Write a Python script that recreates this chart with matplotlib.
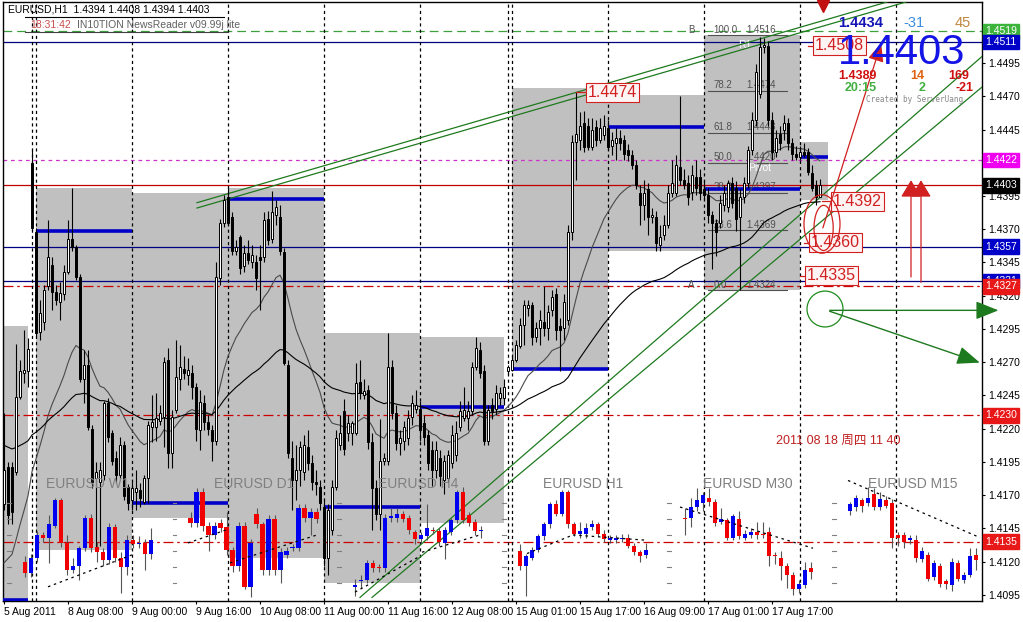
import matplotlib
matplotlib.use("Agg")
import matplotlib.pyplot as plt
import matplotlib.transforms as mtransforms
from matplotlib.patches import Rectangle, Ellipse, FancyArrowPatch
from matplotlib.lines import Line2D

# ---------------- EURUSD H1 bars ----------------
main_open = [
    1.4163, 1.4191, 1.4191, 1.4187, 1.4244, 1.4262, 1.4263, 1.4420, 1.4368, 1.4293,
    1.4300, 1.4327, 1.4343, 1.4323, 1.4315, 1.4321, 1.4338, 1.4363, 1.4357, 1.4334,
    1.4257, 1.4268, 1.4220, 1.4183, 1.4180, 1.4185, 1.4239, 1.4217, 1.4198, 1.4185,
    1.4208, 1.4176, 1.4166, 1.4172, 1.4174, 1.4165, 1.4183, 1.4221, 1.4221, 1.4226,
    1.4229, 1.4272, 1.4202, 1.4234, 1.4257, 1.4265, 1.4260, 1.4262, 1.4251, 1.4219,
    1.4239, 1.4225, 1.4219, 1.4211, 1.4333, 1.4375, 1.4394, 1.4379, 1.4354, 1.4364,
    1.4342, 1.4352, 1.4345, 1.4345, 1.4349, 1.4349, 1.4378, 1.4363, 1.4381, 1.4379,
    1.4353, 1.4268, 1.4198, 1.4181, 1.4189, 1.4187, 1.4206, 1.4194, 1.4180, 1.4176,
    1.4161, 1.4123, 1.4144, 1.4176, 1.4208, 1.4233, 1.4217, 1.4217, 1.4217, 1.4255,
    1.4245, 1.4249, 1.4210, 1.4175, 1.4156, 1.4196, 1.4196, 1.4266, 1.4232, 1.4209,
    1.4211, 1.4213, 1.4229, 1.4235, 1.4235, 1.4224, 1.4215, 1.4204, 1.4189, 1.4198,
    1.4181, 1.4183, 1.4194, 1.4200, 1.4221, 1.4228, 1.4228, 1.4233, 1.4266, 1.4279,
    1.4263, 1.4211, 1.4238, 1.4235, 1.4243, 1.4243, 1.4263, 1.4264, 1.4272, 1.4282,
    1.4298, 1.4311, 1.4313, 1.4289, 1.4296, 1.4300, 1.4296, 1.4309, 1.4321, 1.4297,
    1.4296, 1.4302, 1.4368, 1.4436, 1.4437, 1.4450, 1.4448, 1.4432, 1.4447, 1.4437,
    1.4441, 1.4446, 1.4433, 1.4435, 1.4439, 1.4437, 1.4430, 1.4426, 1.4418, 1.4397,
    1.4388, 1.4400, 1.4379, 1.4379, 1.4358, 1.4366, 1.4373, 1.4397, 1.4397, 1.4417,
    1.4407, 1.4405, 1.4398, 1.4409, 1.4409, 1.4400, 1.4396, 1.4381, 1.4375, 1.4375,
    1.4388, 1.4387, 1.4405, 1.4401, 1.4379, 1.4394, 1.4405, 1.4430, 1.4452, 1.4472,
    1.4507, 1.4508, 1.4452, 1.4428, 1.4442, 1.4445, 1.4450, 1.4435, 1.4427, 1.4424,
    1.4428, 1.4428, 1.4412, 1.4403, 1.4394]
main_high = [
    1.4232, 1.4195, 1.4195, 1.4284, 1.4272, 1.4294, 1.4288, 1.4430, 1.4371, 1.4317,
    1.4328, 1.4377, 1.4349, 1.4328, 1.4330, 1.4343, 1.4377, 1.4401, 1.4358, 1.4336,
    1.4279, 1.4279, 1.4223, 1.4195, 1.4195, 1.4241, 1.4243, 1.4219, 1.4203, 1.4214,
    1.4211, 1.4178, 1.4180, 1.4189, 1.4179, 1.4185, 1.4226, 1.4245, 1.4247, 1.4238,
    1.4274, 1.4281, 1.4234, 1.4287, 1.4283, 1.4275, 1.4273, 1.4268, 1.4254, 1.4249,
    1.4245, 1.4230, 1.4223, 1.4345, 1.4378, 1.4396, 1.4401, 1.4383, 1.4362, 1.4366,
    1.4358, 1.4362, 1.4358, 1.4351, 1.4358, 1.4383, 1.4384, 1.4399, 1.4392, 1.4388,
    1.4356, 1.4272, 1.4211, 1.4208, 1.4211, 1.4215, 1.4219, 1.4200, 1.4189, 1.4181,
    1.4166, 1.4163, 1.4181, 1.4219, 1.4230, 1.4242, 1.4230, 1.4226, 1.4269, 1.4272,
    1.4257, 1.4253, 1.4217, 1.4181, 1.4227, 1.4202, 1.4292, 1.4272, 1.4238, 1.4219,
    1.4226, 1.4234, 1.4245, 1.4249, 1.4241, 1.4230, 1.4219, 1.4211, 1.4211, 1.4204,
    1.4200, 1.4204, 1.4223, 1.4226, 1.4241, 1.4251, 1.4241, 1.4270, 1.4289, 1.4285,
    1.4268, 1.4238, 1.4243, 1.4253, 1.4251, 1.4257, 1.4268, 1.4275, 1.4287, 1.4303,
    1.4317, 1.4317, 1.4315, 1.4300, 1.4309, 1.4327, 1.4313, 1.4324, 1.4326, 1.4303,
    1.4321, 1.4373, 1.4441, 1.4473, 1.4458, 1.4459, 1.4454, 1.4454, 1.4452, 1.4454,
    1.4456, 1.4452, 1.4443, 1.4446, 1.4445, 1.4441, 1.4434, 1.4430, 1.4422, 1.4403,
    1.4407, 1.4405, 1.4386, 1.4384, 1.4373, 1.4381, 1.4403, 1.4422, 1.4426, 1.4470,
    1.4415, 1.4411, 1.4418, 1.4422, 1.4415, 1.4407, 1.4401, 1.4384, 1.4378, 1.4396,
    1.4403, 1.4407, 1.4409, 1.4406, 1.4400, 1.4409, 1.4433, 1.4458, 1.4494, 1.4515,
    1.4514, 1.4512, 1.4458, 1.4445, 1.4448, 1.4456, 1.4454, 1.4439, 1.4433, 1.4433,
    1.4435, 1.4431, 1.4418, 1.4407, 1.4408]
main_low = [
    1.4159, 1.4148, 1.4148, 1.4185, 1.4242, 1.4254, 1.4251, 1.4369, 1.4290, 1.4287,
    1.4294, 1.4324, 1.4309, 1.4313, 1.4302, 1.4317, 1.4336, 1.4354, 1.4332, 1.4255,
    1.4239, 1.4219, 1.4175, 1.4129, 1.4132, 1.4181, 1.4210, 1.4193, 1.4179, 1.4183,
    1.4166, 1.4159, 1.4159, 1.4159, 1.4161, 1.4163, 1.4164, 1.4210, 1.4211, 1.4223,
    1.4206, 1.4190, 1.4190, 1.4232, 1.4249, 1.4257, 1.4253, 1.4242, 1.4211, 1.4204,
    1.4219, 1.4215, 1.4196, 1.4208, 1.4328, 1.4372, 1.4373, 1.4351, 1.4351, 1.4336,
    1.4338, 1.4344, 1.4341, 1.4324, 1.4309, 1.4345, 1.4358, 1.4360, 1.4373, 1.4351,
    1.4268, 1.4198, 1.4159, 1.4166, 1.4177, 1.4181, 1.4189, 1.4174, 1.4170, 1.4159,
    1.4117, 1.4110, 1.4140, 1.4174, 1.4204, 1.4200, 1.4211, 1.4208, 1.4215, 1.4242,
    1.4242, 1.4205, 1.4144, 1.4151, 1.4144, 1.4193, 1.4193, 1.4227, 1.4204, 1.4200,
    1.4204, 1.4208, 1.4223, 1.4232, 1.4211, 1.4208, 1.4189, 1.4177, 1.4183, 1.4177,
    1.4171, 1.4180, 1.4190, 1.4196, 1.4218, 1.4226, 1.4219, 1.4230, 1.4264, 1.4258,
    1.4208, 1.4208, 1.4227, 1.4230, 1.4238, 1.4238, 1.4261, 1.4263, 1.4270, 1.4281,
    1.4283, 1.4305, 1.4283, 1.4285, 1.4283, 1.4290, 1.4287, 1.4305, 1.4287, 1.4263,
    1.4287, 1.4298, 1.4362, 1.4407, 1.4430, 1.4428, 1.4430, 1.4430, 1.4433, 1.4435,
    1.4437, 1.4430, 1.4426, 1.4422, 1.4430, 1.4422, 1.4421, 1.4415, 1.4400, 1.4373,
    1.4377, 1.4366, 1.4375, 1.4354, 1.4354, 1.4362, 1.4371, 1.4394, 1.4395, 1.4403,
    1.4400, 1.4388, 1.4392, 1.4396, 1.4392, 1.4392, 1.4375, 1.4340, 1.4350, 1.4371,
    1.4384, 1.4383, 1.4386, 1.4369, 1.4324, 1.4390, 1.4401, 1.4426, 1.4448, 1.4469,
    1.4503, 1.4448, 1.4422, 1.4424, 1.4430, 1.4437, 1.4430, 1.4422, 1.4422, 1.4422,
    1.4424, 1.4411, 1.4399, 1.4388, 1.4394]
main_close = [
    1.4189, 1.4155, 1.4157, 1.4244, 1.4263, 1.4264, 1.4280, 1.4371, 1.4292, 1.4307,
    1.4324, 1.4349, 1.4323, 1.4317, 1.4322, 1.4338, 1.4363, 1.4357, 1.4334, 1.4257,
    1.4268, 1.4221, 1.4180, 1.4187, 1.4189, 1.4239, 1.4214, 1.4196, 1.4185, 1.4208,
    1.4169, 1.4164, 1.4175, 1.4175, 1.4168, 1.4183, 1.4223, 1.4225, 1.4228, 1.4232,
    1.4270, 1.4202, 1.4229, 1.4259, 1.4266, 1.4262, 1.4264, 1.4251, 1.4220, 1.4240,
    1.4225, 1.4220, 1.4211, 1.4334, 1.4375, 1.4392, 1.4375, 1.4354, 1.4357, 1.4341,
    1.4352, 1.4347, 1.4351, 1.4333, 1.4347, 1.4377, 1.4362, 1.4383, 1.4387, 1.4354,
    1.4269, 1.4202, 1.4181, 1.4189, 1.4206, 1.4208, 1.4194, 1.4180, 1.4178, 1.4164,
    1.4123, 1.4159, 1.4176, 1.4213, 1.4217, 1.4205, 1.4224, 1.4224, 1.4254, 1.4247,
    1.4248, 1.4210, 1.4175, 1.4156, 1.4196, 1.4198, 1.4266, 1.4232, 1.4209, 1.4213,
    1.4221, 1.4228, 1.4239, 1.4238, 1.4219, 1.4214, 1.4194, 1.4189, 1.4204, 1.4184,
    1.4196, 1.4200, 1.4215, 1.4217, 1.4233, 1.4234, 1.4233, 1.4266, 1.4281, 1.4262,
    1.4211, 1.4234, 1.4233, 1.4247, 1.4247, 1.4251, 1.4266, 1.4272, 1.4283, 1.4298,
    1.4313, 1.4313, 1.4289, 1.4296, 1.4302, 1.4296, 1.4308, 1.4319, 1.4294, 1.4294,
    1.4315, 1.4368, 1.4436, 1.4442, 1.4448, 1.4432, 1.4432, 1.4445, 1.4437, 1.4446,
    1.4448, 1.4432, 1.4437, 1.4439, 1.4435, 1.4427, 1.4426, 1.4418, 1.4403, 1.4388,
    1.4397, 1.4379, 1.4381, 1.4360, 1.4364, 1.4373, 1.4397, 1.4405, 1.4418, 1.4407,
    1.4403, 1.4394, 1.4411, 1.4401, 1.4397, 1.4396, 1.4381, 1.4375, 1.4368, 1.4390,
    1.4397, 1.4405, 1.4390, 1.4378, 1.4394, 1.4405, 1.4430, 1.4452, 1.4488, 1.4507,
    1.4509, 1.4452, 1.4428, 1.4439, 1.4435, 1.4450, 1.4435, 1.4427, 1.4424, 1.4428,
    1.4426, 1.4413, 1.4401, 1.4394, 1.4403]

# moving average starting values seen at the left edge
fast_ma_seed = 1.4112
slow_ma_seed = 1.4208

# day separators (bar index)
day_starts = [7, 8, 32, 56, 80, 104, 126, 127, 151, 175, 199, 223]

# daily range boxes and daily pivot lines
box_start = [-0.25, 8, 32, 56, 80, 104, 127, 151, 175, 199]
box_end = [6, 32, 56, 80, 104, 125, 151, 175, 199, 206]
box_high = [1.4297, 1.4401, 1.4397, 1.4401, 1.4292, 1.4289, 1.4476, 1.4471, 1.4516, 1.4436]
box_low = [1.4080, 1.4129, 1.4153, 1.4123, 1.4104, 1.4149, 1.4264, 1.4354, 1.4324, 1.4392]
pivot_level = [1.4091, 1.4369, 1.4164, 1.4393, 1.4161, 1.4236, 1.4265, 1.4447, 1.4400, 1.4424]

# fibonacci A -> B
fib_a = 1.4324
fib_b = 1.4516
fib_levels = [0.0, 23.6, 38.2, 50.0, 61.8, 78.2, 100.0]

# x axis
date_ticks = [0, 16, 32, 48, 64, 80, 96, 112, 128, 144, 160, 176, 192]
date_labels = ["5 Aug 2011", "8 Aug 08:00", "9 Aug 00:00", "9 Aug 16:00", "10 Aug 08:00",
               "11 Aug 00:00", "11 Aug 16:00", "12 Aug 08:00", "15 Aug 01:00",
               "15 Aug 17:00", "16 Aug 09:00", "17 Aug 01:00", "17 Aug 17:00"]
price_ticks = [1.4495, 1.4470, 1.4445, 1.4395, 1.4370, 1.4345, 1.4320, 1.4295, 1.4270,
               1.4245, 1.4220, 1.4195, 1.4170, 1.4145, 1.4120, 1.4095]
marked_prices = [1.4519, 1.4511, 1.4422, 1.4403, 1.4357, 1.4331, 1.4327, 1.4230, 1.4135]

# ---------------- multi timeframe mini candles ----------------
w1_o = [1.4120, 1.4111, 1.4123, 1.4140, 1.4138, 1.4147, 1.4166, 1.4134, 1.4114, 1.4117, 1.4130,
        1.4153, 1.4131, 1.4127, 1.4121, 1.4146, 1.4123, 1.4116, 1.4136, 1.4133, 1.4134, 1.4126]
w1_h = [1.4124, 1.4126, 1.4143, 1.4142, 1.4155, 1.4168, 1.4168, 1.4140, 1.4123, 1.4132, 1.4155,
        1.4156, 1.4135, 1.4130, 1.4149, 1.4148, 1.4127, 1.4140, 1.4140, 1.4139, 1.4137, 1.4145]
w1_l = [1.4108, 1.4108, 1.4120, 1.4135, 1.4119, 1.4145, 1.4131, 1.4110, 1.4111, 1.4106, 1.4128,
        1.4127, 1.4120, 1.4117, 1.4118, 1.4120, 1.4096, 1.4110, 1.4130, 1.4130, 1.4114, 1.4122]
w1_c = [1.4111, 1.4123, 1.4140, 1.4138, 1.4148, 1.4166, 1.4134, 1.4114, 1.4117, 1.4130, 1.4153,
        1.4130, 1.4127, 1.4121, 1.4146, 1.4123, 1.4116, 1.4136, 1.4133, 1.4134, 1.4126, 1.4136]

d1_o = [1.4153, 1.4149, 1.4172, 1.4147, 1.4140, 1.4149, 1.4146, 1.4129, 1.4117, 1.4147, 1.4101,
        1.4156, 1.4148, 1.4114, 1.4152, 1.4114, 1.4125, 1.4130, 1.4130, 1.4160, 1.4153, 1.4157]
d1_h = [1.4157, 1.4175, 1.4175, 1.4150, 1.4150, 1.4152, 1.4157, 1.4131, 1.4150, 1.4150, 1.4137,
        1.4160, 1.4150, 1.4155, 1.4155, 1.4130, 1.4131, 1.4133, 1.4163, 1.4163, 1.4160, 1.4160]
d1_l = [1.4146, 1.4146, 1.4143, 1.4128, 1.4137, 1.4142, 1.4125, 1.4112, 1.4113, 1.4099, 1.4093,
        1.4145, 1.4110, 1.4110, 1.4110, 1.4104, 1.4123, 1.4128, 1.4128, 1.4150, 1.4140, 1.4149]
d1_c = [1.4149, 1.4172, 1.4147, 1.4140, 1.4147, 1.4145, 1.4129, 1.4117, 1.4147, 1.4101, 1.4134,
        1.4148, 1.4114, 1.4152, 1.4114, 1.4127, 1.4128, 1.4131, 1.4160, 1.4153, 1.4157, 1.4152]

h4_o = [1.4101, 1.4105, 1.4106, 1.4119, 1.4116, 1.4115, 1.4153, 1.4153, 1.4156, 1.4153, 1.4142,
        1.4137, 1.4139, 1.4144, 1.4143, 1.4134, 1.4142, 1.4151, 1.4172, 1.4155, 1.4150, 1.4143]
h4_h = [1.4107, 1.4110, 1.4121, 1.4121, 1.4118, 1.4156, 1.4160, 1.4160, 1.4158, 1.4155, 1.4144,
        1.4142, 1.4163, 1.4146, 1.4145, 1.4146, 1.4153, 1.4174, 1.4176, 1.4157, 1.4152, 1.4147]
h4_l = [1.4094, 1.4100, 1.4104, 1.4112, 1.4112, 1.4112, 1.4150, 1.4150, 1.4150, 1.4141, 1.4133,
        1.4134, 1.4136, 1.4141, 1.4132, 1.4122, 1.4140, 1.4149, 1.4149, 1.4147, 1.4140, 1.4138]
h4_c = [1.4102, 1.4106, 1.4119, 1.4115, 1.4115, 1.4153, 1.4154, 1.4156, 1.4152, 1.4144, 1.4137,
        1.4140, 1.4145, 1.4143, 1.4135, 1.4144, 1.4151, 1.4172, 1.4151, 1.4149, 1.4143, 1.4144]

h1_o = [1.4128, 1.4117, 1.4123, 1.4129, 1.4139, 1.4148, 1.4163, 1.4156, 1.4172, 1.4148, 1.4141,
        1.4141, 1.4146, 1.4148, 1.4141, 1.4136, 1.4136, 1.4137, 1.4138, 1.4132, 1.4127, 1.4125]
h1_h = [1.4133, 1.4126, 1.4131, 1.4141, 1.4150, 1.4165, 1.4166, 1.4174, 1.4174, 1.4150, 1.4150,
        1.4149, 1.4151, 1.4150, 1.4144, 1.4140, 1.4140, 1.4141, 1.4141, 1.4134, 1.4129, 1.4134]
h1_l = [1.4114, 1.4094, 1.4121, 1.4127, 1.4136, 1.4145, 1.4154, 1.4154, 1.4145, 1.4139, 1.4138,
        1.4138, 1.4144, 1.4139, 1.4135, 1.4134, 1.4134, 1.4135, 1.4130, 1.4125, 1.4120, 1.4123]
h1_c = [1.4117, 1.4124, 1.4129, 1.4139, 1.4148, 1.4163, 1.4156, 1.4172, 1.4148, 1.4141, 1.4143,
        1.4145, 1.4148, 1.4141, 1.4137, 1.4138, 1.4138, 1.4138, 1.4132, 1.4127, 1.4124, 1.4129]

m30_o = [1.4153, 1.4153, 1.4161, 1.4164, 1.4168, 1.4165, 1.4150, 1.4151, 1.4138, 1.4152, 1.4138,
         1.4140, 1.4142, 1.4141, 1.4142, 1.4125, 1.4123, 1.4117, 1.4110, 1.4099, 1.4102, 1.4115]
m30_h = [1.4160, 1.4168, 1.4175, 1.4172, 1.4175, 1.4167, 1.4160, 1.4153, 1.4156, 1.4158, 1.4144,
         1.4145, 1.4150, 1.4150, 1.4146, 1.4127, 1.4128, 1.4119, 1.4112, 1.4106, 1.4120, 1.4120]
m30_l = [1.4140, 1.4146, 1.4158, 1.4158, 1.4162, 1.4147, 1.4148, 1.4136, 1.4136, 1.4137, 1.4136,
         1.4138, 1.4137, 1.4138, 1.4117, 1.4118, 1.4106, 1.4100, 1.4095, 1.4096, 1.4100, 1.4107]
m30_c = [1.4152, 1.4161, 1.4166, 1.4170, 1.4165, 1.4149, 1.4152, 1.4138, 1.4154, 1.4139, 1.4141,
         1.4142, 1.4140, 1.4140, 1.4124, 1.4124, 1.4117, 1.4110, 1.4099, 1.4103, 1.4114, 1.4112]

m15_o = [1.4158, 1.4161, 1.4166, 1.4164, 1.4171, 1.4161, 1.4166, 1.4164, 1.4140, 1.4140, 1.4136,
         1.4136, 1.4122, 1.4125, 1.4108, 1.4117, 1.4105, 1.4102, 1.4119, 1.4106, 1.4110, 1.4125]
m15_h = [1.4165, 1.4170, 1.4168, 1.4176, 1.4175, 1.4172, 1.4169, 1.4167, 1.4142, 1.4142, 1.4140,
         1.4140, 1.4131, 1.4127, 1.4121, 1.4119, 1.4107, 1.4123, 1.4121, 1.4112, 1.4130, 1.4130]
m15_l = [1.4155, 1.4158, 1.4157, 1.4162, 1.4159, 1.4159, 1.4160, 1.4130, 1.4132, 1.4130, 1.4133,
         1.4120, 1.4120, 1.4105, 1.4106, 1.4101, 1.4099, 1.4098, 1.4105, 1.4104, 1.4108, 1.4114]
m15_c = [1.4163, 1.4168, 1.4162, 1.4168, 1.4161, 1.4167, 1.4162, 1.4138, 1.4138, 1.4135, 1.4138,
         1.4123, 1.4128, 1.4107, 1.4119, 1.4103, 1.4103, 1.4120, 1.4107, 1.4110, 1.4124, 1.4121]

mini_names = ["EURUSD W1", "EURUSD D1", "EURUSD H4", "EURUSD H1", "EURUSD M30", "EURUSD M15"]

# ---------------- drawn objects (bar index, price) ----------------
channel_top = [((48.25, 1.4390), (220.75, 1.4541)), ((48.25, 1.4386), (225.5, 1.4541))]
channel_rise = [((89.0, 1.4093), (244.5, 1.4500)), ((92.0, 1.4093), (244.5, 1.4477))]
mini_trend = [((11, 1.4101), (32, 1.4125)), ((46, 1.4134), (55.75, 1.4144)),
              ((56.5, 1.4119), (78.25, 1.4140)), ((87.75, 1.4097), (104, 1.4124)),
              ((104.5, 1.4127), (119, 1.4140)), ((130.75, 1.4126), (142.25, 1.4140)),
              ((142.25, 1.4140), (160.75, 1.4136)), ((169, 1.4161), (202.25, 1.4130)),
              ((211, 1.4181), (244, 1.4138))]
price_boxes = [("1.4508", 201.0, 202.5, 1.4508), ("1.4474", 143.0, 145.75, 1.4473),
               ("1.4392", 204.5, 207.0, 1.4391), ("1.4360", 200.0, 201.5, 1.4360),
               ("1.4335", 199.0, 200.5, 1.4335)]

# ================================================================
W, H = 1023, 622
plt.rcParams['font.family'] = ['Liberation Sans', 'Noto Sans CJK SC', 'DejaVu Sans']
fig = plt.figure(figsize=(W / 100, H / 100), dpi=100)
fig.patch.set_facecolor('white')
X0, X1, Y0, Y1 = 3, 982, 2, 601
ax = fig.add_axes([X0 / W, 1 - Y1 / H, (X1 - X0) / W, (Y1 - Y0) / H])
ax.set_facecolor('white')
ax.set_xlim(-0.25, 244.5)
ax.set_ylim(1.40903, 1.4541)


def px(x, y):
    return x / W, 1 - y / H


n = len(main_close)

# daily range boxes + pivot segments
for s, e, hi, lo, pv in zip(box_start, box_end, box_high, box_low, pivot_level):
    ax.add_patch(Rectangle((s, lo), e - s, hi - lo, fc='#C0C0C0', ec='none', zorder=1))
    ax.plot([s, e], [pv, pv], color='#0000C8', lw=2.6, zorder=4, solid_capstyle='butt')

# horizontal levels
hstyles = {1.4519: ('#3CA03C', (0, (7, 4))), 1.4511: ('#000080', '-'),
           1.4422: ('#CC33CC', (0, (3, 3))), 1.4403: ('#C00000', '-'),
           1.4357: ('#000080', '-'), 1.4331: ('#000080', '-'),
           1.4327: ('#CC0000', (0, (8, 3, 2, 3))), 1.4230: ('#CC0000', (0, (8, 3, 2, 3))),
           1.4135: ('#CC0000', (0, (8, 3, 2, 3)))}
for p in marked_prices:
    c, ls = hstyles[p]
    ax.axhline(p, color=c, ls=ls, lw=0.9, zorder=2)

# day separators
for d in day_starts:
    ax.axvline(d, color='black', ls=(0, (2.5, 2.5)), lw=0.9, zorder=2.5)

# fibonacci
fib_x0, fib_x1 = 176, 195.75
for lv in fib_levels:
    p = fib_a + (fib_b - fib_a) * lv / 100.0
    ax.plot([fib_x0, fib_x1], [p, p], color='#505050', lw=0.8, zorder=3)
    ax.text(fib_x0 + 1.3, p + 0.00004, f"{lv:.1f}", fontsize=7, color='#505050',
            va='bottom', zorder=3)
    ax.text(fib_x0 + 9.5, p + 0.00004, f"{p:.4f}", fontsize=7, color='#505050',
            va='bottom', zorder=3)
ax.text(171, 1.4520, "B", fontsize=7, color='#505050', va='center')
ax.text(171, 1.4328, "A", fontsize=7, color='#505050', va='center')
ax.text(183.5, 1.4509, "R1", fontsize=7.5, color='white', va='center', zorder=3)
ax.text(186.0, 1.4416, "Pivot", fontsize=7.5, color='white', va='center', zorder=3)

# channels
for (a, b) in channel_top + channel_rise:
    ax.plot([a[0], b[0]], [a[1], b[1]], color='#1E7A1E', lw=0.9, zorder=4)

# moving averages of the closes
def ema(values, period, seed):
    k = 2.0 / (period + 1)
    out, prev = [], seed
    for v in values:
        prev = prev + k * (v - prev)
        out.append(prev)
    return out

bars = list(range(n))
ax.plot(bars, ema(main_close, 21, fast_ma_seed), color='#4A4A4A', lw=0.8, zorder=4.5)
ax.plot(bars, ema(main_close, 72, slow_ma_seed), color='black', lw=0.8, zorder=4.5)

# main candles
ax.vlines(bars, main_low, main_high, color='black', lw=0.8, zorder=5)
for i in bars:
    o, c = main_open[i], main_close[i]
    lo, hgt = min(o, c), max(abs(c - o), 0.00006)
    ax.add_patch(Rectangle((i - 0.34, lo), 0.68, hgt, fc='white' if c >= o else 'black',
                           ec='black', lw=0.7, zorder=6))

# mini multi-timeframe candles
groups = [(w1_o, w1_h, w1_l, w1_c), (d1_o, d1_h, d1_l, d1_c), (h4_o, h4_h, h4_l, h4_c),
          (h1_o, h1_h, h1_l, h1_c), (m30_o, m30_h, m30_l, m30_c), (m15_o, m15_h, m15_l, m15_c)]
group_x0 = [5.25, 46.67, 87.75, 129.0, 170.25, 211.5]
for x0, (go, gh, gl, gc), name in zip(group_x0, groups, mini_names):
    xs = [x0 + 1.5 * k for k in range(len(gc))]
    ax.vlines(xs, gl, gh, color='#555555', lw=0.8, zorder=6.5)
    for x, o, c in zip(xs, go, gc):
        lo, hgt = min(o, c), max(abs(c - o), 0.00005)
        ax.add_patch(Rectangle((x - 0.58, lo), 1.16, hgt, fc='#0000F0' if c >= o else '#F00000',
                               ec='none', zorder=7))
    ax.text(xs[0] + 1.5 * 10.5, 1.4178, name, fontsize=10, color='#808080',
            ha='center', va='center', zorder=6.8)
    # tiny scale ticks of each mini chart
    for k in range(6):
        ax.plot([x0 - 4.4, x0 - 3.6], [1.4104 + 0.0012 * k] * 2, color='#808080', lw=0.8, zorder=6)
for (a, b) in mini_trend:
    ax.plot([a[0], b[0]], [a[1], b[1]], color='black', ls=(0, (2, 3)), lw=0.9, zorder=7)

# red annotations
for txt, lead, x, p in price_boxes:
    ax.plot([lead, x], [p, p], color='#D02020', lw=0.9, zorder=8)
    ax.text(x + 0.3, p, txt, fontsize=11.5, color='#D02020', va='center', ha='left', zorder=8,
            bbox=dict(boxstyle='square,pad=0.12', fc='#FFF4F4', ec='#D02020', lw=0.8))
ax.add_patch(Ellipse((204.5, 1.4374), 9.0, 0.0044, fill=False, ec='#D02020', lw=0.9, zorder=8))
ax.add_patch(Ellipse((204.9, 1.4371), 4.8, 0.0034, fill=False, ec='#D02020', lw=0.9, zorder=8))
ax.add_patch(FancyArrowPatch((204.5, 1.4369), (219.5, 1.4512), arrowstyle='-|>,head_length=0.8,head_width=0.35',
                             mutation_scale=14, color='#D02020', lw=0.9, zorder=8))
for xa, pa in [(226.75, 1.4332), (229.25, 1.4328)]:
    ax.add_patch(FancyArrowPatch((xa, pa), (xa, 1.4409), arrowstyle='-|>,head_length=0.75,head_width=0.45',
                                 mutation_scale=14, color='#D02020', lw=0.9, zorder=8))
ax.plot([204.75], [1.4538], marker='v', color='#C01010', ms=8, clip_on=False, zorder=9)
ax.text(208.5, 1.4211, "2011 08 18 周四 11 40", fontsize=9, color='#C02020',
        ha='center', va='center', zorder=8)

# green circle + arrows
ax.add_patch(Ellipse((205.25, 1.4310), 9.0, 0.0027, fill=False, ec='#1E8C1E', lw=0.9, zorder=8))
ax.add_patch(FancyArrowPatch((205.75, 1.4309), (249.3, 1.4309), arrowstyle='-|>,head_length=1.0,head_width=0.4',
                             mutation_scale=14, color='#1E7A1E', lw=1.0, zorder=8, clip_on=False))
ax.add_patch(FancyArrowPatch((205.75, 1.4309), (244.6, 1.4269), arrowstyle='-|>,head_length=1.0,head_width=0.4',
                             mutation_scale=14, color='#1E7A1E', lw=1.0, zorder=8, clip_on=False))

# ---------------- axes ----------------
for sp in ax.spines.values():
    sp.set_color('black')
    sp.set_linewidth(1.0)
ax.yaxis.tick_right()
ax.set_yticks(price_ticks)
ax.set_yticklabels([f"{p:.4f}" for p in price_ticks])
ax.set_xticks(date_ticks)
ax.set_xticklabels(date_labels)
ax.tick_params(axis='y', direction='out', length=2.5, pad=2, labelsize=7.5, colors='black')
ax.tick_params(axis='x', direction='out', length=2.5, pad=2, labelsize=7.5, colors='black')
for lbl in ax.get_xticklabels():
    lbl.set_ha('left')

ytrans = mtransforms.blended_transform_factory(fig.transFigure, ax.transData)
label_colors = {1.4519: '#3CB43C', 1.4511: '#0000C8', 1.4422: '#F000F0', 1.4403: 'black',
                1.4357: '#0000C8', 1.4331: '#0000C8', 1.4327: '#E81818', 1.4230: '#E81818',
                1.4135: '#E81818'}
for p in marked_prices:
    ax.text(985 / W, p, f"{p:.4f}", transform=ytrans, fontsize=7.5, color='white',
            ha='left', va='center', clip_on=False, zorder=10,
            bbox=dict(boxstyle='square,pad=0.22', fc=label_colors[p], ec=label_colors[p]))

# ---------------- overlay texts ----------------
hdr = (f"EURUSD,H1  {main_open[-1]:.4f} {main_high[-1]:.4f} "
       f"{main_low[-1]:.4f} {main_close[-1]:.4f}")
fig.text(*px(8, 10), hdr, fontsize=7.5, va='center', ha='left')
fig.text(*px(30, 25), "18:31:42", fontsize=7.5, color='#C85050', va='center', ha='left')
fig.text(*px(77, 25), "IN10TION NewsReader v09.99j lite", fontsize=7.5, color='#606060',
         va='center', ha='left')
fig.add_artist(Line2D([25 / W, 224 / W], [1 - 17 / H, 1 - 17 / H], color='black', lw=0.8))
fig.add_artist(Line2D([25 / W, 228 / W], [1 - 32 / H, 1 - 32 / H], color='#404040', lw=0.8))

fig.text(*px(838, 23), "1.4434", fontsize=10.5, fontweight='bold', color='#1414B4', va='center')
fig.text(*px(903, 23), "-31", fontsize=10.5, color='#3C8CE0', va='center')
fig.text(*px(955, 23), "45", fontsize=10.5, color='#C08840', va='center')
fig.text(*px(838, 64), f"{main_close[-1]:.4f}", fontsize=30, color='#1414E6', va='baseline')
fig.text(*px(838, 76), "1.4389", fontsize=9, fontweight='bold', color='#D01010', va='center')
fig.text(*px(910, 76), "14", fontsize=9, fontweight='bold', color='#E06010', va='center')
fig.text(*px(948, 76), "169", fontsize=9, fontweight='bold', color='#D01010', va='center')
fig.text(*px(845, 88), "20:15", fontsize=9, fontweight='bold', color='#40B040', va='center')
fig.text(*px(919, 88), "2", fontsize=9, fontweight='bold', color='#40B040', va='center')
fig.text(*px(956, 88), "-21", fontsize=9, fontweight='bold', color='#D01010', va='center')
fig.text(*px(866, 100), "Created by ServerUang", fontsize=5.5, color='#888888', va='center',
         family='DejaVu Sans Mono')

fig.savefig("out.png", dpi=100, facecolor='white')
